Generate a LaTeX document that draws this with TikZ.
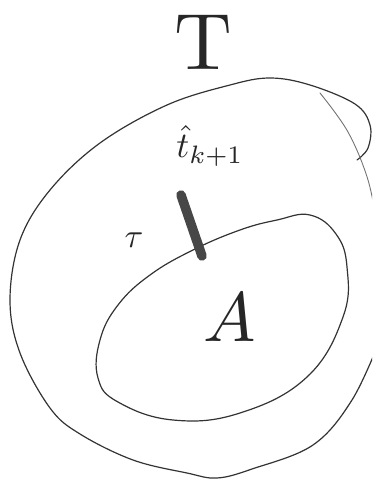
\documentclass[tikz,border=0pt]{standalone}
\usepackage{graphicx}
\usepackage{amsmath}
\begin{document}
\begin{tikzpicture}[x=1pt,y=-1pt,
  pen/.style={draw=black!80, line width=1.2pt, line cap=round, line join=round},
  faint/.style={draw=black!55, line width=0.9pt, line cap=round},
  bar/.style={draw=black!72, line width=9.5pt, line cap=round},
  lbl/.style={text=black!85, inner sep=0pt}]
\useasboundingbox (0,0) rectangle (372,479);
\clip (0,0) rectangle (372,479);
% outer curve
\draw[pen] plot[smooth, tension=0.6] coordinates {(357,160) (368,148) (370,125) (355,104) (310,85) (270,78) (230,85) (167,105) (100,143) (50,190) (20,240) (10,300) (20,353) (50,408) (80,434) (133,460) (187,473) (217,478) (252,469) (313,445) (352,400) (380,340)};
\draw[faint] plot[smooth, tension=0.6] coordinates {(320,93) (348,132) (368,180) (378,230)};
% inner ellipse
\draw[pen] plot[smooth cycle, tension=0.7] coordinates {(310,215) (336,234) (347,267) (343,317) (307,377) (240,413) (173,420) (118,402) (98,378) (100,340) (118,305) (150,275) (193,250) (240,230) (277,220)};
% thick bar
\coordinate (b1) at (181,195);
\coordinate (b2) at (202,256);
\draw[bar] (b1) -- (b2);
% labels
\node[lbl] (T) at (203,42) {\scalebox{8}{T}};
\node[lbl] (t) at (210,146) {\scalebox{3.6}{$\hat{t}_{k+1}$}};
\node[lbl] (tau) at (134,240) {\scalebox{3.4}{$\tau$}};
\node[lbl] (A) at (230,318) {\scalebox{7}{$A$}};
\end{tikzpicture}
\end{document}
